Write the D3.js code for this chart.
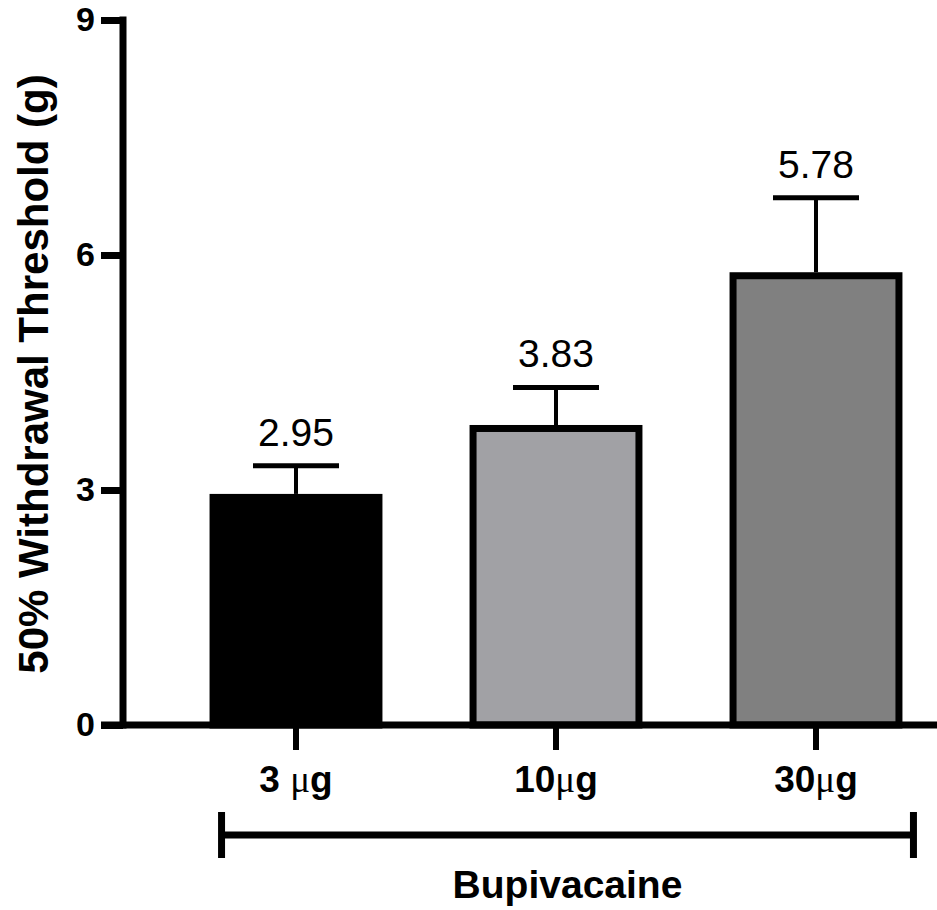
<!DOCTYPE html>
<html>
<head>
<meta charset="utf-8">
<script src="https://cdn.jsdelivr.net/npm/d3@7"></script>
<style>
  body { margin: 0; background: #fff; }
  svg { display: block; font-family: Arial, "Liberation Sans", sans-serif; }
</style>
</head>
<body>
<div id="chart"></div>
<script>
// data
const doses = ["3 μg", "10μg", "30μg"];
const doseNumbers = ["3 ", "10", "30"];
const means = [2.95, 3.83, 5.78];
const errorTops = [3.31, 4.31, 6.73];
const barColors = ["#000000", "#a1a1a5", "#808080"];
const yTicks = [0, 3, 6, 9];
const groupLabel = "Bupivacaine";
const yLabel = "50% Withdrawal Threshold (g)";

const width = 937, height = 910;
const axisX = 123, axisY = 725;

const svg = d3.select("#chart")
    .append("svg")
    .attr("width", width)
    .attr("height", height);

const yScale = d3.scaleLinear()
    .domain([0, 9])
    .range([axisY, 20]);

const xScale = d3.scaleBand()
    .domain(doses)
    .range([166, 946])
    .paddingInner(0.335)
    .paddingOuter(0.1675);

const bw = xScale.bandwidth();

// bars
svg.selectAll(".bar")
    .data(doses)
    .enter().append("rect")
    .attr("class", "bar")
    .attr("x", d => xScale(d) + 3.5)
    .attr("y", (d, i) => yScale(means[i]) + 3.5)
    .attr("width", bw - 7)
    .attr("height", (d, i) => axisY - yScale(means[i]) - 3.5)
    .attr("fill", (d, i) => barColors[i])
    .attr("stroke", "#000")
    .attr("stroke-width", 7);

// error bars (upper only)
const err = svg.selectAll(".err")
    .data(doses)
    .enter().append("g")
    .attr("class", "err");

err.append("line")
    .attr("x1", d => xScale(d) + bw / 2)
    .attr("x2", d => xScale(d) + bw / 2)
    .attr("y1", (d, i) => yScale(means[i]))
    .attr("y2", (d, i) => yScale(errorTops[i]))
    .attr("stroke", "#000")
    .attr("stroke-width", 4);

err.append("line")
    .attr("x1", d => xScale(d) + bw / 2 - 43)
    .attr("x2", d => xScale(d) + bw / 2 + 43)
    .attr("y1", (d, i) => yScale(errorTops[i]))
    .attr("y2", (d, i) => yScale(errorTops[i]))
    .attr("stroke", "#000")
    .attr("stroke-width", 5);

// value labels
svg.selectAll(".val")
    .data(doses)
    .enter().append("text")
    .attr("class", "val")
    .attr("x", d => xScale(d) + bw / 2)
    .attr("y", (d, i) => yScale(errorTops[i]) - 20)
    .attr("text-anchor", "middle")
    .attr("font-size", 39)
    .text((d, i) => means[i].toFixed(2));

// y axis
const yAxis = svg.append("g")
    .attr("transform", `translate(${axisX},0)`)
    .call(d3.axisLeft(yScale).tickValues(yTicks).tickSize(22).tickSizeOuter(0).tickPadding(6));
yAxis.select(".domain").remove();
yAxis.selectAll(".tick line").attr("stroke", "#000").attr("stroke-width", 7);
yAxis.selectAll(".tick text")
    .attr("font-size", 34)
    .attr("font-weight", "bold")
    .attr("fill", "#000")
    .attr("font-family", "Arial, 'Liberation Sans', sans-serif");

svg.append("line")
    .attr("x1", axisX).attr("x2", axisX)
    .attr("y1", axisY + 3.5).attr("y2", yScale(9) - 3.5)
    .attr("stroke", "#000")
    .attr("stroke-width", 7);

// x axis
const xAxis = svg.append("g")
    .attr("transform", `translate(0,${axisY})`)
    .call(d3.axisBottom(xScale).tickSize(25).tickSizeOuter(0).tickFormat(""));
xAxis.select(".domain").remove();
xAxis.selectAll(".tick line").attr("stroke", "#000").attr("stroke-width", 6);

svg.append("line")
    .attr("x1", axisX - 22).attr("x2", width)
    .attr("y1", axisY).attr("y2", axisY)
    .attr("stroke", "#000")
    .attr("stroke-width", 7);

// x tick labels, with a serif mu
const xl = svg.selectAll(".xlab")
    .data(doses)
    .enter().append("text")
    .attr("class", "xlab")
    .attr("x", d => xScale(d) + bw / 2)
    .attr("y", 792)
    .attr("text-anchor", "middle")
    .attr("font-size", 37)
    .attr("font-weight", "bold");
xl.append("tspan").text((d, i) => doseNumbers[i]);
xl.append("tspan")
    .attr("font-family", "'Liberation Serif', 'DejaVu Serif', serif")
    .attr("font-weight", "normal")
    .text("μ");
xl.append("tspan").text("g");

// group bracket
const bx0 = xScale(doses[0]) + 12;
const bx1 = xScale(doses[doses.length - 1]) + bw + 11;
svg.append("line")
    .attr("x1", bx0).attr("x2", bx1)
    .attr("y1", 835).attr("y2", 835)
    .attr("stroke", "#000").attr("stroke-width", 7);
[bx0, bx1].forEach(x => {
    svg.append("line")
        .attr("x1", x).attr("x2", x)
        .attr("y1", 812).attr("y2", 858)
        .attr("stroke", "#000").attr("stroke-width", 7);
});

svg.append("text")
    .attr("x", (bx0 + bx1) / 2)
    .attr("y", 898)
    .attr("text-anchor", "middle")
    .attr("font-size", 39)
    .attr("font-weight", "bold")
    .text(groupLabel);

// y axis title
svg.append("text")
    .attr("transform", `translate(48,${(75 + 673) / 2}) rotate(-90)`)
    .attr("text-anchor", "middle")
    .attr("font-size", 42)
    .attr("font-weight", "bold")
    .text(yLabel);
</script>
</body>
</html>
